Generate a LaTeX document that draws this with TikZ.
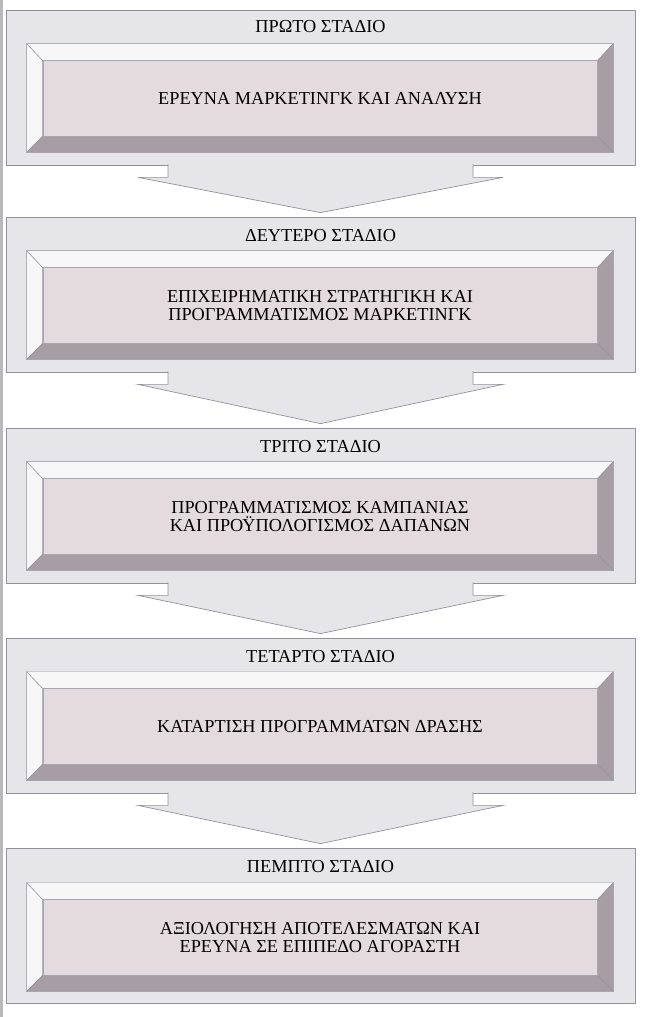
\documentclass[tikz,border=0pt]{standalone}
\usepackage{fontspec}
\setmainfont{Liberation Serif}
\usepackage{tikz}
\usetikzlibrary{positioning}
\usetikzlibrary{calc}

\definecolor{outergray}{RGB}{230,230,232}
\definecolor{facepink}{RGB}{228,219,222}
\definecolor{bevellight}{RGB}{247,247,247}
\definecolor{beveldark}{RGB}{166,158,162}
\definecolor{edgegray}{RGB}{145,145,160}
\definecolor{scanedge}{RGB}{185,185,188}

\tikzset{
  stagebox/.style={draw=edgegray,fill=outergray,line width=0.5pt,minimum width=15.725cm,minimum height=3.875cm,inner sep=0pt},
  framebox/.style={minimum width=14.65cm,minimum height=2.7cm,inner sep=0pt},
  facebox/.style={draw=edgegray!80,fill=facepink,line width=0.3pt,minimum width=13.85cm,minimum height=1.9cm,align=center,font=\fontsize{13}{12.8}\selectfont},
  titletext/.style={font=\fontsize{13}{14}\selectfont},
  bevelup/.style={draw=edgegray,fill=bevellight,line width=0.3pt},
  beveldown/.style={draw=edgegray,fill=beveldark,line width=0.3pt},
  blockarrow/.style={draw=edgegray,fill=outergray,line width=0.5pt},
}

\begin{document}
\begin{tikzpicture}[x=0.025cm,y=-0.025cm]

\useasboundingbox (0,0) rectangle (645,1017);
\fill[scanedge] (0,0) rectangle (3,1017);

%STAGE BOXES
\node[stagebox](S1)at(320.5,87.5){};
\node[stagebox](S2)at(320.5,294.5){};
\node[stagebox](S3)at(320.5,505.5){};
\node[stagebox](S4)at(320.5,715.5){};
\node[stagebox](S5)at(320.5,925.5){};

%TITLES
\node[titletext](S1-title)at(320.5,27){ΠΡΩΤΟ ΣΤΑΔΙΟ};
\node[titletext](S2-title)at(320.5,236){ΔΕΥΤΕΡΟ ΣΤΑΔΙΟ};
\node[titletext](S3-title)at(320.5,447){ΤΡΙΤΟ ΣΤΑΔΙΟ};
\node[titletext](S4-title)at(320.5,657){ΤΕΤΑΡΤΟ ΣΤΑΔΙΟ};
\node[titletext](S5-title)at(320.5,867){ΠΕΜΠΤΟ ΣΤΑΔΙΟ};

%FRAMES
\node[framebox](S1-frame)at(320,98){};
\node[framebox](S2-frame)at(320,305){};
\node[framebox](S3-frame)at(320,516){};
\node[framebox](S4-frame)at(320,726){};
\node[framebox](S5-frame)at(320,937){};

\foreach \s in {1,...,5}{
  \draw[bevelup] (S\s-frame.north west) -- (S\s-frame.north east) -- ($(S\s-frame.north east)+(-16,17)$) -- ($(S\s-frame.north west)+(16,17)$) -- cycle;
  \draw[bevelup] (S\s-frame.north west) -- ($(S\s-frame.north west)+(16,17)$) -- ($(S\s-frame.south west)+(16,-16)$) -- (S\s-frame.south west) -- cycle;
  \draw[beveldown] (S\s-frame.north east) -- (S\s-frame.south east) -- ($(S\s-frame.south east)+(-16,-16)$) -- ($(S\s-frame.north east)+(-16,17)$) -- cycle;
  \draw[beveldown] (S\s-frame.south west) -- (S\s-frame.south east) -- ($(S\s-frame.south east)+(-16,-16)$) -- ($(S\s-frame.south west)+(16,-16)$) -- cycle;
}

%FACES
\node[facebox](S1-face)at(320,98.5){ΕΡΕΥΝΑ ΜΑΡΚΕΤΙΝΓΚ ΚΑΙ ΑΝΑΛΥΣΗ};
\node[facebox](S2-face)at(320,305.5){ΕΠΙΧΕΙΡΗΜΑΤΙΚΗ ΣΤΡΑΤΗΓΙΚΗ ΚΑΙ\\ΠΡΟΓΡΑΜΜΑΤΙΣΜΟΣ ΜΑΡΚΕΤΙΝΓΚ};
\node[facebox](S3-face)at(320,516.5){ΠΡΟΓΡΑΜΜΑΤΙΣΜΟΣ ΚΑΜΠΑΝΙΑΣ\\ΚΑΙ ΠΡΟΫΠΟΛΟΓΙΣΜΟΣ ΔΑΠΑΝΩΝ};
\node[facebox](S4-face)at(320,726.5){ΚΑΤΑΡΤΙΣΗ ΠΡΟΓΡΑΜΜΑΤΩΝ ΔΡΑΣΗΣ};
\node[facebox](S5-face)at(320,937.5){ΑΞΙΟΛΟΓΗΣΗ ΑΠΟΤΕΛΕΣΜΑΤΩΝ ΚΑΙ\\ΕΡΕΥΝΑ ΣΕ ΕΠΙΠΕΔΟ ΑΓΟΡΑΣΤΗ};

%ARROWS
\foreach \a/\b in {S1/S2,S2/S3,S3/S4,S4/S5}{
  \filldraw[blockarrow] ($(\a.south)+(-152.5,-1)$) -- ++(0,13) -- ++(-30,0)
    -- ($(\b.north)+(0,-4)$)
    -- ($(\a.south)+(182.5,12)$) -- ++(-30,0) -- ++(0,-13);
}

\end{tikzpicture}
\end{document}
